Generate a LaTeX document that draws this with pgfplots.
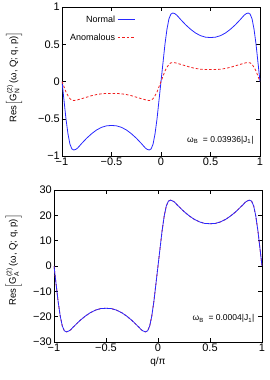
\documentclass[border=0pt]{standalone}
\usepackage{pgfplots}
\pgfplotsset{compat=1.18}
\usepackage{pgfplotstable}
\usepackage{amsmath}
\usepackage{fontspec}
\setmainfont{Liberation Sans}
\definecolor{gblue}{RGB}{40,40,255}
\definecolor{gred}{RGB}{240,30,30}
\pgfplotstableread{
x nt at b
-1.00 0 0 0
-0.98 -0.25 -0.07 -7.1
-0.96 -0.50 -0.14 -14.1
-0.94 -0.70 -0.19 -19.8
-0.92 -0.84 -0.23 -23.7
-0.90 -0.905 -0.25 -25.6
-0.88 -0.92 -0.255 -26.0
-0.86 -0.91 -0.252 -25.7
-0.84 -0.89 -0.245 -25.2
-0.82 -0.86 -0.237 -24.3
-0.80 -0.83 -0.23 -23.5
-0.75 -0.76 -0.21 -21.5
-0.70 -0.70 -0.19 -19.8
-0.65 -0.65 -0.175 -18.4
-0.60 -0.615 -0.165 -17.4
-0.55 -0.595 -0.16 -16.8
-0.50 -0.59 -0.16 -16.7
-0.45 -0.595 -0.16 -16.8
-0.40 -0.615 -0.165 -17.4
-0.35 -0.65 -0.175 -18.4
-0.30 -0.70 -0.19 -19.8
-0.25 -0.76 -0.21 -21.5
-0.20 -0.83 -0.23 -23.5
-0.18 -0.86 -0.237 -24.3
-0.16 -0.89 -0.245 -25.2
-0.14 -0.91 -0.252 -25.7
-0.12 -0.92 -0.255 -26.0
-0.10 -0.905 -0.25 -25.6
-0.08 -0.84 -0.23 -23.7
-0.06 -0.70 -0.19 -19.8
-0.04 -0.50 -0.14 -14.1
-0.02 -0.25 -0.07 -7.1
0.00 0 0 0
0.02 0.25 0.07 7.1
0.04 0.50 0.14 14.1
0.06 0.70 0.19 19.8
0.08 0.84 0.23 23.7
0.10 0.905 0.25 25.6
0.12 0.92 0.255 26.0
0.14 0.91 0.252 25.7
0.16 0.89 0.245 25.2
0.18 0.86 0.237 24.3
0.20 0.83 0.23 23.5
0.25 0.76 0.21 21.5
0.30 0.70 0.19 19.8
0.35 0.65 0.175 18.4
0.40 0.615 0.165 17.4
0.45 0.595 0.16 16.8
0.50 0.59 0.16 16.7
0.55 0.595 0.16 16.8
0.60 0.615 0.165 17.4
0.65 0.65 0.175 18.4
0.70 0.70 0.19 19.8
0.75 0.76 0.21 21.5
0.80 0.83 0.23 23.5
0.82 0.86 0.237 24.3
0.84 0.89 0.245 25.2
0.86 0.91 0.252 25.7
0.88 0.92 0.255 26.0
0.90 0.905 0.25 25.6
0.92 0.84 0.23 23.7
0.94 0.70 0.19 19.8
0.96 0.50 0.14 14.1
0.98 0.25 0.07 7.1
1.00 0 0 0
}\data
\begin{document}
\begin{tikzpicture}
\path (0pt,0pt) rectangle (270pt,-380pt);
\pgfplotsset{
  every axis/.append style={
    scale only axis,
    xmin=-1, xmax=1,
    xtick={-1,-0.5,0,0.5,1},
    xticklabels={−1,−0.5,0,0.5,1},
    tick align=inside,
    major tick length=4pt,
    tick style={black, line width=0.5pt},
    axis line style={line width=0.6pt},
    tick label style={font=\fontsize{11}{13}\selectfont},
    label style={font=\fontsize{10}{12}\selectfont},
    every tick label/.append style={inner sep=2pt},
  }
}
\begin{axis}[
  at={(62pt,-156pt)}, anchor=south west,
  width=198pt, height=149pt,
  ymin=-1, ymax=1,
  ytick={-1,-0.5,0,0.5,1},
  yticklabels={−1,−0.5,0,0.5,1},
  ylabel={\fontsize{9.5}{11}\selectfont Res$\Big[$G$^{\text{(2)}}_{\text{N}}$\,(ω, Q; q, p)$\Big]$},
  ylabel style={at={(axis description cs:-0.242,0.53)}, anchor=center, inner sep=0pt},
  legend style={draw=none, fill=none, at={(axis cs:-0.23,0.94)}, anchor=north east,
    nodes={font=\fontsize{9}{11}\selectfont}, legend cell align=right, row sep=6pt},
  legend plot pos=right,
  legend image code/.code={\draw[#1] (0pt,0pt) -- (17pt,0pt);},
]
\addplot[color=gblue, line width=0.8pt] table[x=x,y=nt]{\data};
\addlegendentry{Normal}
\addplot[color=gred, line width=0.8pt, dash pattern=on 2.5pt off 2pt] table[x=x,y=at]{\data};
\addlegendentry{Anomalous}
\node[anchor=east, font=\fontsize{8.5}{10}\selectfont] at (axis cs:0.97,-0.79) {ω\textsubscript{B}~ = 0.03936|J\textsubscript{1}|};
\end{axis}
\begin{axis}[
  at={(54pt,-342pt)}, anchor=south west,
  width=208pt, height=152pt,
  ymin=-30, ymax=30,
  ytick={-30,-20,-10,0,10,20,30},
  yticklabels={−30,−20,−10,0,10,20,30},
  ylabel={\fontsize{9.5}{11}\selectfont Res$\Big[$G$^{\text{(2)}}_{\text{A}}$\,(ω, Q; q, p)$\Big]$},
  ylabel style={at={(axis description cs:-0.194,0.54)}, anchor=center, inner sep=0pt},
  xlabel={q/π},
]
\addplot[color=gred, line width=0.8pt, dash pattern=on 2.5pt off 2pt] table[x=x,y=b]{\data};
\addplot[color=gblue, line width=0.8pt] table[x=x,y=b]{\data};
\node[anchor=east, font=\fontsize{8.5}{10}\selectfont] at (axis cs:0.96,-20.8) {ω\textsubscript{B}~ = 0.0004|J\textsubscript{1}|};
\end{axis}
\end{tikzpicture}
\end{document}
